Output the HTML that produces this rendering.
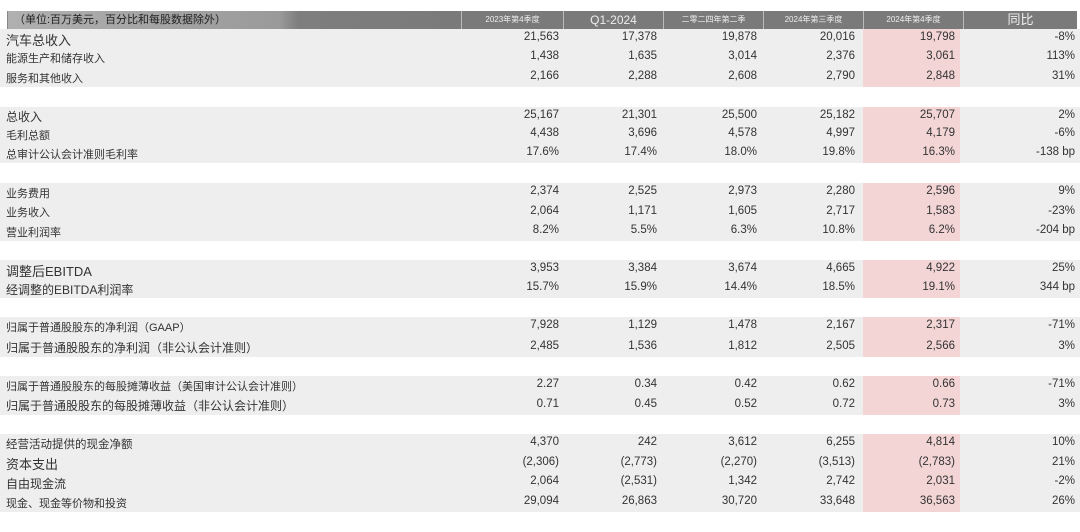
<!DOCTYPE html>
<html><head><meta charset="utf-8"><style>
body{margin:0;width:1080px;height:532px;background:#fff;position:relative;overflow:hidden;font-family:"Liberation Sans","Noto Sans CJK SC",sans-serif;color:#333}
.h{position:absolute;top:11px;height:18px;background:#7a7a7a;color:#eee;font-size:8px;line-height:18px;text-align:center;border-left:1px solid #bbb}
.r{position:absolute;left:0;width:1080px;background:#eeeeee}
.p{position:absolute;left:863px;width:97px;background:#f3d5d5}
.t{position:absolute;font-size:11.5px;white-space:nowrap}
.l{left:6px}
.n{text-align:right}
</style></head><body>
<div class="h" style="left:7px;width:453px;background:linear-gradient(90deg,#b0b0b0 0%,#9a9a9a 60%,#7e7e7e 64%,#7a7a7a 100%);color:#222;font-size:11px;text-align:left;padding-left:6px;width:447px;border-left:1px solid #888">（单位:百万美元，百分比和每股数据除外）</div>
<div class="h" style="left:461px;width:101px">2023年第4季度</div>
<div class="h" style="left:563px;width:99px;font-size:12px">Q1-2024</div>
<div class="h" style="left:663px;width:99px">二零二四年第二季</div>
<div class="h" style="left:763px;width:99px">2024年第三季度</div>
<div class="h" style="left:863px;width:99px">2024年第4季度</div>
<div class="h" style="left:963px;width:113px;font-size:13px">同比</div>

<div class="r" style="top:29px;height:58px"></div><div class="p" style="top:29px;height:58px"></div>
<div class="r" style="top:107px;height:56px"></div><div class="p" style="top:107px;height:56px"></div>
<div class="r" style="top:183px;height:58px"></div><div class="p" style="top:183px;height:58px"></div>
<div class="r" style="top:260px;height:38px"></div><div class="p" style="top:260px;height:38px"></div>
<div class="r" style="top:317px;height:40px"></div><div class="p" style="top:317px;height:40px"></div>
<div class="r" style="top:376px;height:39px"></div><div class="p" style="top:376px;height:39px"></div>
<div class="r" style="top:434px;height:78px"></div><div class="p" style="top:434px;height:78px"></div>

<div style="position:absolute;left:0;top:0;width:1080px">
<!-- rows -->
<div class="t l" style="top:30px;font-size:13px">汽车总收入</div>
<div class="t l" style="top:50px;font-size:11px">能源生产和储存收入</div>
<div class="t l" style="top:70px;font-size:11px">服务和其他收入</div>
<div class="t l" style="top:108px;font-size:12px">总收入</div>
<div class="t l" style="top:127px;font-size:11px">毛利总额</div>
<div class="t l" style="top:146px;font-size:11px">总审计公认会计准则毛利率</div>
<div class="t l" style="top:185px;font-size:11px">业务费用</div>
<div class="t l" style="top:204px;font-size:11px">业务收入</div>
<div class="t l" style="top:224px;font-size:11px">营业利润率</div>
<div class="t l" style="top:261px;font-size:13px">调整后EBITDA</div>
<div class="t l" style="top:281px;font-size:12px">经调整的EBITDA利润率</div>
<div class="t l" style="top:319px;font-size:11px">归属于普通股股东的净利润（GAAP）</div>
<div class="t l" style="top:339px;font-size:12px">归属于普通股股东的净利润（非公认会计准则）</div>
<div class="t l" style="top:378px;font-size:11px">归属于普通股股东的每股摊薄收益（美国审计公认会计准则）</div>
<div class="t l" style="top:397px;font-size:12px">归属于普通股股东的每股摊薄收益（非公认会计准则）</div>
<div class="t l" style="top:436px;font-size:11.5px">经营活动提供的现金净额</div>
<div class="t l" style="top:454px;font-size:13px">资本支出</div>
<div class="t l" style="top:475px;font-size:12px">自由现金流</div>
<div class="t l" style="top:495px;font-size:11px">现金、现金等价物和投资</div>
</div>

<div id="nums">
<!-- columns: right edges 559,657,757,855,955,1075 -->
<div class="t n" style="top:31px;right:521px">21,563</div><div class="t n" style="top:31px;right:423px">17,378</div><div class="t n" style="top:31px;right:323px">19,878</div><div class="t n" style="top:31px;right:225px">20,016</div><div class="t n" style="top:31px;right:125px">19,798</div><div class="t n" style="top:31px;right:5px">-8%</div>
<div class="t n" style="top:50px;right:521px">1,438</div><div class="t n" style="top:50px;right:423px">1,635</div><div class="t n" style="top:50px;right:323px">3,014</div><div class="t n" style="top:50px;right:225px">2,376</div><div class="t n" style="top:50px;right:125px">3,061</div><div class="t n" style="top:50px;right:5px">113%</div>
<div class="t n" style="top:70px;right:521px">2,166</div><div class="t n" style="top:70px;right:423px">2,288</div><div class="t n" style="top:70px;right:323px">2,608</div><div class="t n" style="top:70px;right:225px">2,790</div><div class="t n" style="top:70px;right:125px">2,848</div><div class="t n" style="top:70px;right:5px">31%</div>

<div class="t n" style="top:109px;right:521px">25,167</div><div class="t n" style="top:109px;right:423px">21,301</div><div class="t n" style="top:109px;right:323px">25,500</div><div class="t n" style="top:109px;right:225px">25,182</div><div class="t n" style="top:109px;right:125px">25,707</div><div class="t n" style="top:109px;right:5px">2%</div>
<div class="t n" style="top:127px;right:521px">4,438</div><div class="t n" style="top:127px;right:423px">3,696</div><div class="t n" style="top:127px;right:323px">4,578</div><div class="t n" style="top:127px;right:225px">4,997</div><div class="t n" style="top:127px;right:125px">4,179</div><div class="t n" style="top:127px;right:5px">-6%</div>
<div class="t n" style="top:146px;right:521px">17.6%</div><div class="t n" style="top:146px;right:423px">17.4%</div><div class="t n" style="top:146px;right:323px">18.0%</div><div class="t n" style="top:146px;right:225px">19.8%</div><div class="t n" style="top:146px;right:125px">16.3%</div><div class="t n" style="top:146px;right:5px">-138 bp</div>

<div class="t n" style="top:185px;right:521px">2,374</div><div class="t n" style="top:185px;right:423px">2,525</div><div class="t n" style="top:185px;right:323px">2,973</div><div class="t n" style="top:185px;right:225px">2,280</div><div class="t n" style="top:185px;right:125px">2,596</div><div class="t n" style="top:185px;right:5px">9%</div>
<div class="t n" style="top:205px;right:521px">2,064</div><div class="t n" style="top:205px;right:423px">1,171</div><div class="t n" style="top:205px;right:323px">1,605</div><div class="t n" style="top:205px;right:225px">2,717</div><div class="t n" style="top:205px;right:125px">1,583</div><div class="t n" style="top:205px;right:5px">-23%</div>
<div class="t n" style="top:224px;right:521px">8.2%</div><div class="t n" style="top:224px;right:423px">5.5%</div><div class="t n" style="top:224px;right:323px">6.3%</div><div class="t n" style="top:224px;right:225px">10.8%</div><div class="t n" style="top:224px;right:125px">6.2%</div><div class="t n" style="top:224px;right:5px">-204 bp</div>

<div class="t n" style="top:262px;right:521px">3,953</div><div class="t n" style="top:262px;right:423px">3,384</div><div class="t n" style="top:262px;right:323px">3,674</div><div class="t n" style="top:262px;right:225px">4,665</div><div class="t n" style="top:262px;right:125px">4,922</div><div class="t n" style="top:262px;right:5px">25%</div>
<div class="t n" style="top:281px;right:521px">15.7%</div><div class="t n" style="top:281px;right:423px">15.9%</div><div class="t n" style="top:281px;right:323px">14.4%</div><div class="t n" style="top:281px;right:225px">18.5%</div><div class="t n" style="top:281px;right:125px">19.1%</div><div class="t n" style="top:281px;right:5px">344 bp</div>

<div class="t n" style="top:319px;right:521px">7,928</div><div class="t n" style="top:319px;right:423px">1,129</div><div class="t n" style="top:319px;right:323px">1,478</div><div class="t n" style="top:319px;right:225px">2,167</div><div class="t n" style="top:319px;right:125px">2,317</div><div class="t n" style="top:319px;right:5px">-71%</div>
<div class="t n" style="top:340px;right:521px">2,485</div><div class="t n" style="top:340px;right:423px">1,536</div><div class="t n" style="top:340px;right:323px">1,812</div><div class="t n" style="top:340px;right:225px">2,505</div><div class="t n" style="top:340px;right:125px">2,566</div><div class="t n" style="top:340px;right:5px">3%</div>

<div class="t n" style="top:378px;right:521px">2.27</div><div class="t n" style="top:378px;right:423px">0.34</div><div class="t n" style="top:378px;right:323px">0.42</div><div class="t n" style="top:378px;right:225px">0.62</div><div class="t n" style="top:378px;right:125px">0.66</div><div class="t n" style="top:378px;right:5px">-71%</div>
<div class="t n" style="top:398px;right:521px">0.71</div><div class="t n" style="top:398px;right:423px">0.45</div><div class="t n" style="top:398px;right:323px">0.52</div><div class="t n" style="top:398px;right:225px">0.72</div><div class="t n" style="top:398px;right:125px">0.73</div><div class="t n" style="top:398px;right:5px">3%</div>

<div class="t n" style="top:436px;right:521px">4,370</div><div class="t n" style="top:436px;right:423px">242</div><div class="t n" style="top:436px;right:323px">3,612</div><div class="t n" style="top:436px;right:225px">6,255</div><div class="t n" style="top:436px;right:125px">4,814</div><div class="t n" style="top:436px;right:5px">10%</div>
<div class="t n" style="top:456px;right:521px">(2,306)</div><div class="t n" style="top:456px;right:423px">(2,773)</div><div class="t n" style="top:456px;right:323px">(2,270)</div><div class="t n" style="top:456px;right:225px">(3,513)</div><div class="t n" style="top:456px;right:125px">(2,783)</div><div class="t n" style="top:456px;right:5px">21%</div>
<div class="t n" style="top:475px;right:521px">2,064</div><div class="t n" style="top:475px;right:423px">(2,531)</div><div class="t n" style="top:475px;right:323px">1,342</div><div class="t n" style="top:475px;right:225px">2,742</div><div class="t n" style="top:475px;right:125px">2,031</div><div class="t n" style="top:475px;right:5px">-2%</div>
<div class="t n" style="top:495px;right:521px">29,094</div><div class="t n" style="top:495px;right:423px">26,863</div><div class="t n" style="top:495px;right:323px">30,720</div><div class="t n" style="top:495px;right:225px">33,648</div><div class="t n" style="top:495px;right:125px">36,563</div><div class="t n" style="top:495px;right:5px">26%</div>
</div>
</body></html>
